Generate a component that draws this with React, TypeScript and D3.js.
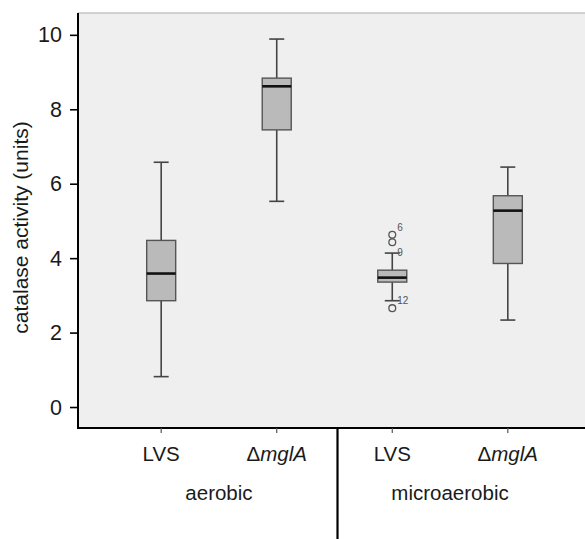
import React from "react";
import * as d3 from "d3";

// groups and strains, left to right
const groups = ["aerobic", "microaerobic"];
const strains = ["LVS", "mglA"];
const keys = ["aerobic-LVS", "aerobic-mglA", "microaerobic-LVS", "microaerobic-mglA"];

// box statistics
const whiskerLow = [0.83, 5.54, 2.87, 2.35];
const q1 = [2.87, 7.46, 3.37, 3.87];
const median = [3.6, 8.63, 3.49, 5.29];
const q3 = [4.49, 8.85, 3.69, 5.69];
const whiskerHigh = [6.59, 9.9, 4.15, 6.46];

// outliers (box index, value, case label)
const outlierBox = [2, 2, 2];
const outlierValue = [4.64, 4.44, 2.67];
const outlierLabel = ["6", "9", "12"];
const outlierLabelDy = [-7, 10, -8];

const yTicks = [0, 2, 4, 6, 8, 10];

const width = 585;
const height = 539;
const left = 78;
const top = 13;
const bottom = 428;

const font = "Arial, 'Liberation Sans', Helvetica, sans-serif";

const App: React.FC = () => {
  const y = d3.scaleLinear().domain([-0.55, 10.6]).range([bottom, top]);
  const x = d3.scalePoint<string>().domain(keys).range([left, 591]).padding(0.72);

  const boxW = 29;
  const capW = 15;

  const divider = ((x(keys[1]) as number) + (x(keys[2]) as number)) / 2 + 3;

  return (
    <svg
      width={width}
      height={height}
      style={{ position: "absolute", left: 0, top: 0, display: "block", background: "#fff" }}
      fontFamily={font}
    >
      {/* plot panel */}
      <rect x={left} y={top} width={width - left} height={bottom - top} fill="#efefef" />
      <line x1={left} x2={width} y1={top} y2={top} stroke="#c4c4c4" strokeWidth={1.6} />

      {/* boxes */}
      {keys.map((k, i) => {
        const cx = x(k) as number;
        return (
          <g key={k}>
            <line x1={cx} x2={cx} y1={y(whiskerHigh[i])} y2={y(q3[i])} stroke="#444" strokeWidth={1.6} />
            <line x1={cx} x2={cx} y1={y(q1[i])} y2={y(whiskerLow[i])} stroke="#444" strokeWidth={1.6} />
            <line x1={cx - capW / 2} x2={cx + capW / 2} y1={y(whiskerHigh[i])} y2={y(whiskerHigh[i])} stroke="#444" strokeWidth={1.6} />
            <line x1={cx - capW / 2} x2={cx + capW / 2} y1={y(whiskerLow[i])} y2={y(whiskerLow[i])} stroke="#444" strokeWidth={1.6} />
            <rect
              x={cx - boxW / 2}
              y={y(q3[i])}
              width={boxW}
              height={y(q1[i]) - y(q3[i])}
              fill="#bababa"
              stroke="#555"
              strokeWidth={1.4}
            />
            <line x1={cx - boxW / 2} x2={cx + boxW / 2} y1={y(median[i])} y2={y(median[i])} stroke="#111" strokeWidth={2.6} />
          </g>
        );
      })}

      {/* outliers */}
      {outlierValue.map((v, i) => {
        const cx = x(keys[outlierBox[i]]) as number;
        return (
          <g key={i}>
            <circle cx={cx} cy={y(v)} r={3.4} fill="none" stroke="#555" strokeWidth={1.3} />
            <text
              x={cx + 5}
              y={y(v) + outlierLabelDy[i]}
              fontSize={10}
              fill="#555"
              dominantBaseline="central"
            >
              {outlierLabel[i]}
            </text>
          </g>
        );
      })}

      {/* y axis */}
      <line x1={left} x2={left} y1={top} y2={bottom + 1} stroke="#000" strokeWidth={2} />
      {yTicks.map((t) => (
        <g key={t}>
          <line x1={left - 8} x2={left} y1={y(t)} y2={y(t)} stroke="#000" strokeWidth={1.6} />
          <text
            x={left - 16}
            y={y(t)}
            textAnchor="end"
            dominantBaseline="central"
            fontSize={21.5}
            fill="#1a1a1a"
          >
            {t}
          </text>
        </g>
      ))}
      <text
        transform={`translate(28, ${(top + bottom) / 2 + 7}) rotate(-90)`}
        textAnchor="middle"
        fontSize={21}
        fill="#1a1a1a"
      >
        catalase activity (units)
      </text>

      {/* x axis */}
      <line x1={left - 1} x2={width} y1={bottom} y2={bottom} stroke="#000" strokeWidth={2} />
      {keys.map((k, i) => {
        const cx = x(k) as number;
        const strain = strains[i % 2];
        return (
          <g key={k}>
            <line x1={cx} x2={cx} y1={bottom} y2={bottom + 5} stroke="#555" strokeWidth={1.2} />
            <text x={cx} y={460.5} textAnchor="middle" fontSize={20.5} fill="#1a1a1a">
              {strain === "LVS" ? (
                "LVS"
              ) : (
                <>
                  <tspan>Δ</tspan>
                  <tspan fontStyle="italic">{strain}</tspan>
                </>
              )}
            </text>
          </g>
        );
      })}
      {groups.map((g, gi) => {
        const cx = ((x(keys[gi * 2]) as number) + (x(keys[gi * 2 + 1]) as number)) / 2;
        return (
          <text key={g} x={cx} y={500} textAnchor="middle" fontSize={20.5} fill="#1a1a1a">
            {g}
          </text>
        );
      })}
      <line x1={divider} x2={divider} y1={bottom} y2={height} stroke="#000" strokeWidth={2.2} />
    </svg>
  );
};

export default App;
